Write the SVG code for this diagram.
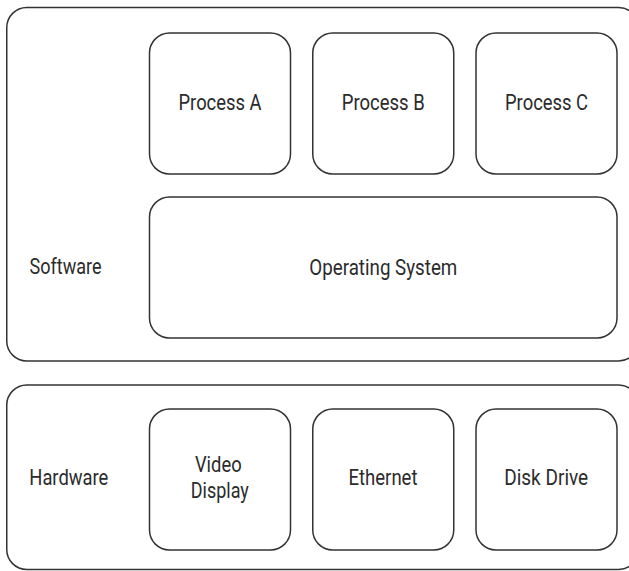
<svg xmlns="http://www.w3.org/2000/svg" width="629" height="571" viewBox="0 0 629 571">
<style>
.box{fill:#fff;stroke:#333;stroke-width:1.5}
.t{font-family:Roboto,"Liberation Sans",sans-serif;font-size:22px;fill:#2b2b2b;text-anchor:middle}
</style>
<rect width="629" height="571" fill="#fff"/>
<g id="software">
<rect class="box" x="6.75" y="7.5" width="632" height="353.5" rx="20" ry="20"/>
<text class="t" x="65.5" y="274" textLength="72" lengthAdjust="spacingAndGlyphs">Software</text>
</g>
<g id="hardware">
<rect class="box" x="6.75" y="385" width="632" height="184.5" rx="20" ry="20"/>
<text class="t" x="68.8" y="485" textLength="79" lengthAdjust="spacingAndGlyphs">Hardware</text>
</g>
<g id="process-a">
<rect class="box" x="149.5" y="33" width="141" height="141" rx="20" ry="20"/>
<text class="t" x="220" y="109.5" textLength="83" lengthAdjust="spacingAndGlyphs">Process A</text>
</g>
<g id="process-b">
<rect class="box" x="312.75" y="33" width="141" height="141" rx="20" ry="20"/>
<text class="t" x="383.25" y="109.5" textLength="83" lengthAdjust="spacingAndGlyphs">Process B</text>
</g>
<g id="process-c">
<rect class="box" x="476" y="33" width="141" height="141" rx="20" ry="20"/>
<text class="t" x="546.5" y="109.5" textLength="83" lengthAdjust="spacingAndGlyphs">Process C</text>
</g>
<g id="operating-system">
<rect class="box" x="149.5" y="197" width="467.5" height="141" rx="20" ry="20"/>
<text class="t" x="383.3" y="274.5" textLength="148" lengthAdjust="spacingAndGlyphs">Operating System</text>
</g>
<g id="video-display">
<rect class="box" x="149.5" y="409" width="141" height="141" rx="20" ry="20"/>
<text class="t" x="218.3" y="471.7" textLength="46.7" lengthAdjust="spacingAndGlyphs">Video</text>
<text class="t" x="219.8" y="498.3" textLength="58" lengthAdjust="spacingAndGlyphs">Display</text>
</g>
<g id="ethernet">
<rect class="box" x="312.75" y="409" width="141" height="141" rx="20" ry="20"/>
<text class="t" x="383" y="485" textLength="69" lengthAdjust="spacingAndGlyphs">Ethernet</text>
</g>
<g id="disk-drive">
<rect class="box" x="476" y="409" width="141" height="141" rx="20" ry="20"/>
<text class="t" x="546.2" y="485" textLength="84" lengthAdjust="spacingAndGlyphs">Disk Drive</text>
</g>
<g id="connectors"/>
</svg>
